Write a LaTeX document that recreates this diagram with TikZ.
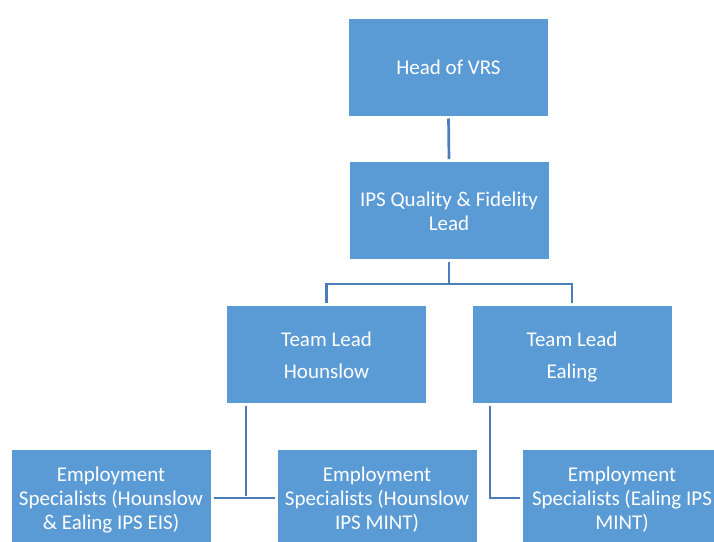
\documentclass[tikz,border=0pt]{standalone}
\usepackage{fontspec}
\setmainfont{Carlito}
\usetikzlibrary{backgrounds}
\definecolor{boxblue}{HTML}{5B9BD5}
\definecolor{linkblue}{HTML}{4A7EBB}
% struts that keep every label at the same optical height
\newcommand\labtop{\rule{0pt}{22.8pt}}
\newcommand\labbot{\strut}
\begin{document}
\begin{tikzpicture}[x=1pt,y=-1pt,
  orgbox/.style={fill=boxblue, draw=white, line width=1pt,
    minimum width=200pt, minimum height=98pt, inner sep=0pt,
    text=white, align=center, font=\fontsize{21}{24}\selectfont},
  link/.style={draw=linkblue, line width=2.7pt, shorten <=2pt, shorten >=2pt}]
\useasboundingbox (0,0) rectangle (714,541);
\begin{scope}
  \clip (0,0) rectangle (714,541);
  % boxes
  \node[orgbox] (head) at (448.5,67)  {\labtop Head of VRS\labbot};
  \node[orgbox] (qfl)  at (449,210.5) {\labtop IPS Quality \& Fidelity\\Lead\labbot};
  \node[orgbox] (tlh)  at (326.5,354.5) {\labtop Team Lead\\[8pt]Hounslow\labbot};
  \node[orgbox] (tle)  at (572,354.5) {\labtop Team Lead\\[8pt]Ealing\labbot};
  \node[orgbox] (esa)  at (111,498) {\labtop Employment\\Specialists (Hounslow\\\& Ealing IPS EIS)\labbot};
  \node[orgbox] (esb)  at (377,498) {\labtop Employment\\Specialists (Hounslow\\IPS MINT)\labbot};
  \node[orgbox] (esc)  at (622,498) {\labtop Employment\\Specialists (Ealing IPS\\MINT)\labbot};
  % connectors
  \coordinate (hj) at (246,498);
  \coordinate (ej) at (490,498);
  \begin{scope}[on background layer]
    \draw[link] (head.south) -- (qfl.north);
    \draw[link] (qfl.south) -- ++(0,24) -| (tlh.north);
    \draw[link] (qfl.south) -- ++(0,24) -| (tle.north);
    \draw[link] (tlh.south -| hj) -- (hj);
    \draw[link] (esa.east) -- (esb.west);
    \draw[link] (tle.south -| ej) -- (ej) -- (esc.west);
  \end{scope}
\end{scope}
\end{tikzpicture}
\end{document}
